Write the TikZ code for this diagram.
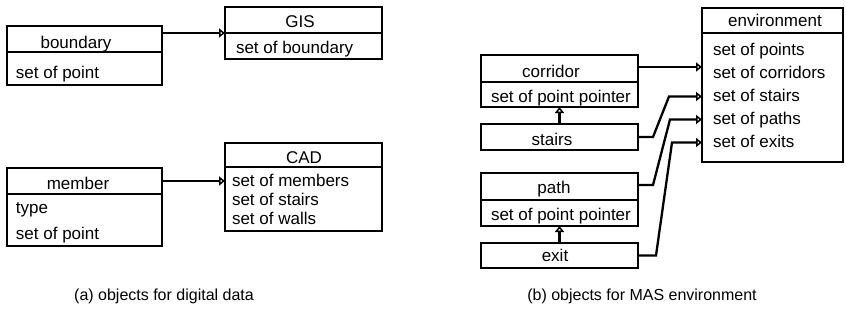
\documentclass[tikz,border=0pt]{standalone}
\usepackage{fontspec}
\setmainfont{Liberation Sans}
\usetikzlibrary{arrows.meta}

\begin{document}
\begin{tikzpicture}[x=1pt, y=-1pt,
  cell/.style={draw, line width=2.8pt, inner sep=0pt, outer sep=0pt},
  txt/.style={inner sep=0pt, outer sep=0pt, font=\fontsize{17}{17}\selectfont,
              text height=12.5pt, text depth=3.5pt},
  ltxt/.style={txt, anchor=west},
  captiontext/.style={inner sep=0pt, font=\fontsize{16}{16}\selectfont},
  conn/.style={line width=2.3pt, -{Triangle[open, length=6pt, width=9pt, line width=2pt]}}]

\useasboundingbox (0,0) rectangle (846,324);

% ---------- (a) objects for digital data ----------
% boundary
\node[cell, minimum width=155pt, minimum height=26pt] (bndH) at (84.5,39) {};
\node[cell, minimum width=155pt, minimum height=33pt] (bndB) at (84.5,68.5) {};
\node[txt] (bndT) at (76,43.5) {boundary};
\node[ltxt] (bndL1) at (16,73.5) {set of point};

% GIS
\node[cell, minimum width=157pt, minimum height=26pt] (gisH) at (303.5,20) {};
\node[cell, minimum width=157pt, minimum height=26pt] (gisB) at (303.5,46) {};
\node[txt] (gisT) at (300,23) {GIS};
\node[ltxt] (gisL1) at (236,48.5) {set of boundary};

% member
\node[cell, minimum width=155pt, minimum height=26pt] (memH) at (84.5,181) {};
\node[cell, minimum width=155pt, minimum height=52pt] (memB) at (84.5,220) {};
\node[txt] (memT) at (78,185) {member};
\node[ltxt] (memL1) at (16,208.5) {type};
\node[ltxt] (memL2) at (16,234.5) {set of point};

% CAD
\node[cell, minimum width=157pt, minimum height=24pt] (cadH) at (303.5,155) {};
\node[cell, minimum width=157pt, minimum height=64pt] (cadB) at (303.5,199) {};
\node[txt] (cadT) at (304,158.5) {CAD};
\node[ltxt] (cadL1) at (232,181.5) {set of members};
\node[ltxt] (cadL2) at (232,200.5) {set of stairs};
\node[ltxt] (cadL3) at (232,219.5) {set of walls};

\draw[conn] ([yshift=6pt]bndH.east) -- ([yshift=6pt]bndH.east -| gisB.west);
\draw[conn] (memH.east) -- (memH.east -| cadB.west);

% ---------- (b) objects for MAS environment ----------
% corridor
\node[cell, minimum width=157pt, minimum height=27pt] (corH) at (559.5,68.5) {};
\node[cell, minimum width=157pt, minimum height=25pt] (corB) at (559.5,94.5) {};
\node[txt] (corT) at (551,72.5) {corridor};
\node[ltxt] (corL1) at (491,97.5) {set of point pointer};

% stairs
\node[cell, minimum width=157pt, minimum height=26pt] (sta) at (559.5,137) {};
\node[txt] (staT) at (552,140.5) {stairs};

% path
\node[cell, minimum width=157pt, minimum height=27pt] (pthH) at (559.5,186.5) {};
\node[cell, minimum width=157pt, minimum height=26pt] (pthB) at (559.5,213) {};
\node[txt] (pthT) at (554,189) {path};
\node[ltxt] (pthL1) at (491,215.5) {set of point pointer};

% exit
\node[cell, minimum width=157pt, minimum height=25pt] (ext) at (559.5,255.5) {};
\node[txt] (extT) at (555,257) {exit};

% environment
\node[cell, minimum width=141pt, minimum height=25pt] (envH) at (772.5,20.5) {};
\node[cell, minimum width=141pt, minimum height=129pt] (envB) at (772.5,97.5) {};
\node[txt] (envT) at (775,22.5) {environment};
\node[ltxt] (envL1) at (713,50.5) {set of points};
\node[ltxt] (envL2) at (713,73.5) {set of corridors};
\node[ltxt] (envL3) at (713,96.5) {set of stairs};
\node[ltxt] (envL4) at (713,119.5) {set of paths};
\node[ltxt] (envL5) at (713,142.5) {set of exits};

% references between objects
\draw[conn] (sta.north) -- (corB.south);
\draw[conn] (ext.north) -- (pthB.south);

% links into the environment
\draw[conn] ([yshift=1.5pt]corH.east) -- ([yshift=1.5pt]corH.east -| envB.west);
\draw[conn] (sta.east) -- ++(15,0)
  -- ([xshift=-33pt]envB.west |- envL3) -- (envB.west |- envL3);
\draw[conn] ([yshift=1.5pt]pthH.east) -- ++(15,0)
  -- ([xshift=-32pt]envB.west |- envL4) -- (envB.west |- envL4);
\draw[conn] (ext.east) -- ++(18,0)
  -- ([xshift=-30pt]envB.west |- envL5) -- (envB.west |- envL5);

% ---------- captions ----------
\node[captiontext] (capA) at (164,296) {(a) objects for digital data};
\node[captiontext] (capB) at (642,296) {(b) objects for MAS environment};
\end{tikzpicture}
\end{document}
